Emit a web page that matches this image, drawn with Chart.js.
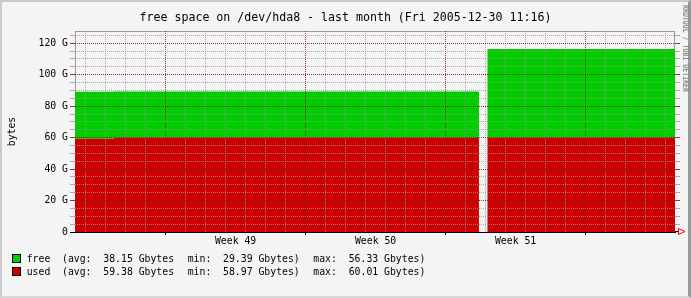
<!DOCTYPE html>
<html>
<head>
<meta charset="utf-8">
<script src="https://cdn.jsdelivr.net/npm/chart.js@4.4.1/dist/chart.umd.min.js"></script>
<style>
  html, body { margin: 0; padding: 0; background: #f4f4f4; }
  body { position: relative; width: 691px; height: 298px; overflow: hidden; font-family: "DejaVu Sans Mono", monospace; }
  #frame { position: absolute; left: 0; top: 0; width: 691px; height: 298px; box-sizing: border-box;
    border-left: 2px solid #cbcbcb; border-top: 2px solid #cbcbcb; border-right: 3px solid #9b9b9b; border-bottom: 2px solid #d8d8d8; }
  canvas { position: absolute; left: 0; top: 0; }
  .lg { position: absolute; font-size: 9.8px; line-height: 12px; color: #000; white-space: pre; }
  .sw { position: absolute; width: 7px; height: 7px; border: 1px solid #000; }
  #mark { position: absolute; left: 689.5px; top: 5px; font-size: 9px; line-height: 9px; color: #8a8a8a; font-weight: bold;
    white-space: pre; transform-origin: 0 0; transform: rotate(90deg) scaleX(0.73); }
</style>
</head>
<body>
<div id="frame"></div>
<canvas id="c" width="691" height="298"></canvas>
<div id="mark">RRDTOOL / TOBI OETIKER</div>
<script>
// free space on /dev/hda8, rrdtool-style stacked areas (used below, free on top)
const sampleTimes = ['2005-11-30T11:16Z', '2005-12-02T10:00Z', '2005-12-20T16:00Z',
  '2005-12-20T20:00Z', '2005-12-21T02:00Z', '2005-12-30T11:16Z'];
const usedGB = [59.3, 60.0, 60.0, null, 60.0, 60.0];
const freeGB = [29.9, 29.3, 29.3, null, 56.3, 56.3];

const seriesNames = ['free', 'used'];
const statAvg = ['38.15', '59.38'];
const statMin = ['29.39', '58.97'];
const statMax = ['56.33', '60.01'];

const weekLabels = ['Week 49', 'Week 50', 'Week 51'];
const weekStarts = ['2005-12-05T00:00Z', '2005-12-12T00:00Z', '2005-12-19T00:00Z'];

const yLabelValues = [0, 20, 40, 60, 80, 100, 120];
const yLabelText = ['0', '20 G', '40 G', '60 G', '80 G', '100 G', '120 G'];

const START = Date.parse('2005-11-30T11:16Z');
const END = Date.parse('2005-12-30T11:16Z');
const DAY = 86400000;
const toDay = (s) => (Date.parse(s) - START) / DAY;

const FONT = 'DejaVu Sans Mono';
const GREEN = '#00cc00';
const RED = '#cc0000';
const GRID = 'rgba(150,150,150,0.8)';
const MGRID = 'rgba(130,30,30,0.9)';

// x ticks: every midnight (minor), Mondays (major), mid-week label positions
const xTicks = [];
for (let t = Date.parse('2005-12-01T00:00Z'); t < END; t += DAY) {
  xTicks.push({ v: (t - START) / DAY, kind: new Date(t).getUTCDay() === 1 ? 'major' : 'minor', text: '' });
}
weekStarts.forEach((s, i) => xTicks.push({ v: toDay(s) + 3.5, kind: 'label', text: weekLabels[i] }));
xTicks.sort((a, b) => a.v - b.v);

const yTicks = [];
for (let v = 0; v <= 125; v += 5) yTicks.push(v);
const yKind = (v) => (v === 0 ? 'zero' : v % 20 === 0 ? 'major' : 'minor');

const series = (vals) => sampleTimes.map((s, i) => ({ x: toDay(s), y: vals[i] }));

const plotFrame = {
  id: 'plotFrame',
  beforeDatasetsDraw(chart) {
    const { ctx, chartArea: a } = chart;
    ctx.save();
    ctx.strokeStyle = '#999';
    ctx.lineWidth = 1;
    ctx.strokeRect(a.left + 0.5, a.top + 0.5, a.right - a.left - 1, a.bottom - a.top);
    ctx.restore();
  },
  afterDraw(chart) {
    const { ctx, chartArea: a } = chart;
    const r = a.right, b = Math.round(a.bottom) - 0.5;
    ctx.save();
    ctx.strokeStyle = '#000';
    ctx.beginPath();
    ctx.moveTo(r, b);
    ctx.lineTo(r + 4, b);
    ctx.stroke();
    ctx.strokeStyle = '#ff0000';
    ctx.beginPath();
    ctx.moveTo(r + 3.5, b - 3);
    ctx.lineTo(r + 3.5, b + 3);
    ctx.lineTo(r + 10, b);
    ctx.closePath();
    ctx.stroke();
    ctx.restore();
  },
};

new Chart(document.getElementById('c'), {
  type: 'line',
  data: {
    datasets: [
      { label: 'used', data: series(usedGB), backgroundColor: RED, fill: 'origin' },
      { label: 'free', data: series(freeGB), backgroundColor: GREEN, fill: '-1' },
    ],
  },
  options: {
    responsive: false,
    devicePixelRatio: 1,
    animation: false,
    spanGaps: false,
    layout: { padding: 0 },
    elements: {
      line: { borderWidth: 0, stepped: true, tension: 0 },
      point: { radius: 0, hoverRadius: 0 },
    },
    plugins: {
      legend: { display: false },
      tooltip: { enabled: false },
      title: {
        display: true,
        text: 'free space on /dev/hda8 - last month (Fri 2005-12-30 11:16)',
        color: '#000',
        font: { family: FONT, size: 11.6, weight: 'normal', lineHeight: 1 },
        padding: { top: 12, bottom: 7.4 },
      },
    },
    scales: {
      x: {
        type: 'linear',
        min: 0,
        max: (END - START) / DAY,
        afterFit: (s) => { s.height = 66; },
        afterBuildTicks: (s) => { s.ticks = xTicks.map((t) => ({ value: t.v })); },
        ticks: {
          autoSkip: false,
          maxRotation: 0,
          minRotation: 0,
          padding: 1,
          color: '#000',
          font: { family: FONT, size: 9.8 },
          callback: (v, i) => xTicks[i].text,
        },
        grid: {
          z: 1,
          lineWidth: 1,
          tickLength: 3,
          color: (c) => (xTicks[c.index] ? (xTicks[c.index].kind === 'major' ? MGRID : xTicks[c.index].kind === 'minor' ? GRID : 'transparent') : 'transparent'),
          tickColor: (c) => (xTicks[c.index] && xTicks[c.index].kind === 'major' ? '#222' : 'transparent'),
        },
        border: { display: true, z: 2, color: '#000', width: 1, dash: [1, 1] },
      },
      y: {
        type: 'linear',
        position: 'left',
        stacked: true,
        min: 0,
        max: 127.8,
        afterFit: (s) => { s.width = 75; },
        afterBuildTicks: (s) => { s.ticks = yTicks.map((v) => ({ value: v })); },
        title: {
          display: true,
          text: 'bytes',
          color: '#000',
          font: { family: FONT, size: 9.8 },
          padding: { top: 7, bottom: 0 },
        },
        ticks: {
          autoSkip: false,
          padding: 2,
          color: '#000',
          font: { family: FONT, size: 9.8 },
          callback: (v) => {
            const k = yLabelValues.indexOf(v);
            return k >= 0 ? yLabelText[k] : '';
          },
        },
        grid: {
          z: 1,
          lineWidth: 1,
          tickLength: 5,
          color: (c) => {
            const k = yKind(c.tick ? c.tick.value : -1);
            return k === 'major' ? MGRID : k === 'minor' ? GRID : 'transparent';
          },
          tickColor: (c) => {
            const k = yKind(c.tick ? c.tick.value : -1);
            return k === 'zero' ? '#000' : k === 'major' ? MGRID : GRID;
          },
        },
        border: { display: false, dash: [1, 1] },
      },
      y2: {
        type: 'linear',
        position: 'right',
        min: 0,
        max: 127.8,
        afterFit: (s) => { s.width = 16; },
        afterBuildTicks: (s) => { s.ticks = yTicks.map((v) => ({ value: v })); },
        ticks: { display: false, autoSkip: false },
        grid: {
          z: 1,
          drawOnChartArea: false,
          tickLength: 5,
          tickColor: (c) => {
            const k = yKind(c.tick ? c.tick.value : -1);
            return k === 'zero' ? 'transparent' : k === 'major' ? MGRID : GRID;
          },
        },
        border: { display: false },
      },
    },
  },
  plugins: [plotFrame],
});

// legend rows, rrdtool GPRINT style
const swatchColors = [GREEN, RED];
const rowTops = [253, 266];
const swatchTops = [254, 267];
seriesNames.forEach((name, i) => {
  const sw = document.createElement('div');
  sw.className = 'sw';
  sw.style.left = '12px';
  sw.style.top = swatchTops[i] + 'px';
  sw.style.background = swatchColors[i];
  document.body.appendChild(sw);
  const pieces = [
    [26.7, name],
    [62, '(avg:  ' + statAvg[i] + ' Gbytes'],
    [187.7, 'min:  ' + statMin[i] + ' Gbytes)'],
    [313.3, 'max:  ' + statMax[i] + ' Gbytes)'],
  ];
  for (const [x, text] of pieces) {
    const s = document.createElement('div');
    s.className = 'lg';
    s.style.left = x + 'px';
    s.style.top = rowTops[i] + 'px';
    s.textContent = text;
    document.body.appendChild(s);
  }
});
</script>
</body>
</html>
